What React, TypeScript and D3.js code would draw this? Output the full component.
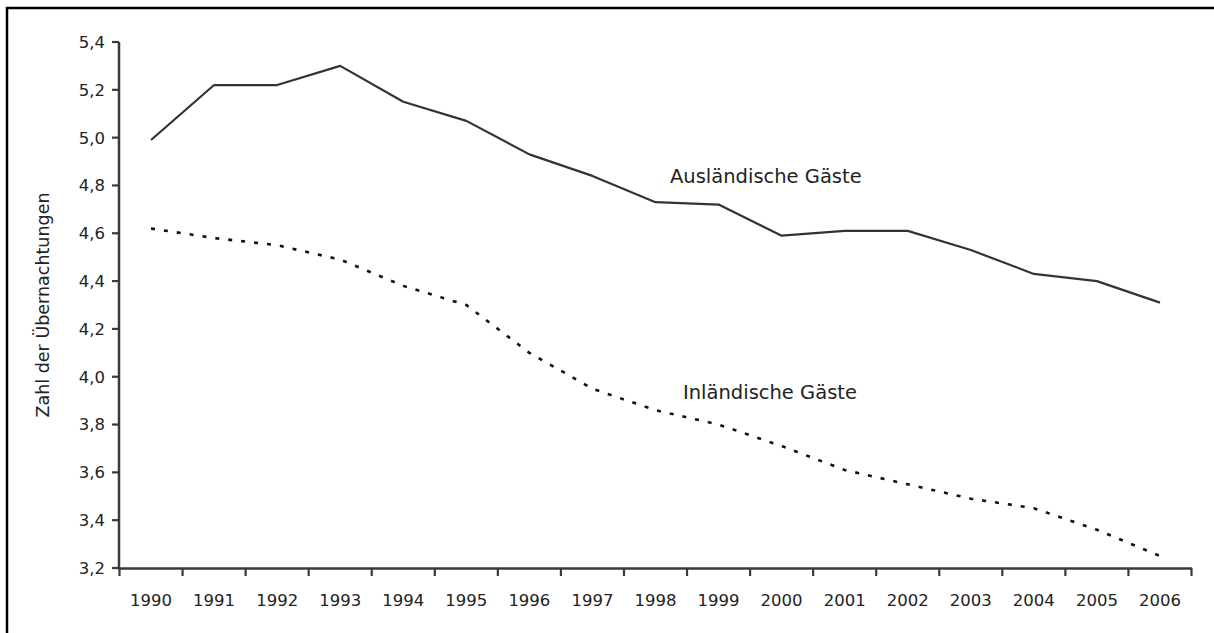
import React from "react";
import * as d3 from "d3";

const years = [
  "1990", "1991", "1992", "1993", "1994", "1995", "1996", "1997", "1998",
  "1999", "2000", "2001", "2002", "2003", "2004", "2005", "2006",
];
const auslaendisch = [
  4.99, 5.22, 5.22, 5.3, 5.15, 5.07, 4.93, 4.84, 4.73, 4.72, 4.59, 4.61, 4.61,
  4.53, 4.43, 4.4, 4.31,
];
const inlaendisch = [
  4.62, 4.58, 4.55, 4.49, 4.38, 4.3, 4.1, 3.95, 3.86, 3.8, 3.71, 3.61, 3.55,
  3.49, 3.45, 3.36, 3.25,
];
const yTicks = [3.2, 3.4, 3.6, 3.8, 4.0, 4.2, 4.4, 4.6, 4.8, 5.0, 5.2, 5.4];
const yTitle = "Zahl der Übernachtungen";
const labelAusl = "Ausländische Gäste";
const labelInl = "Inländische Gäste";

const W = 1214;
const H = 633;
const FONT = "'DejaVu Sans', sans-serif";
const AXIS = "#3a3a3a";

export default function App() {
  const x = d3.scaleBand<string>().domain(years).range([119.5, 1191.5]);
  const y = d3.scaleLinear().domain([3.2, 5.4]).range([568, 42]);
  const cx = (i: number) => (x(years[i]) as number) + x.bandwidth() / 2;

  const line = d3
    .line<number>()
    .x((_, i) => cx(i))
    .y((d) => y(d));

  const boundaries = [
    ...years.map((yr) => x(yr) as number),
    (x(years[years.length - 1]) as number) + x.bandwidth(),
  ];

  const fmt = (v: number) => v.toFixed(1).replace(".", ",");

  return (
    <svg
      width={W}
      height={H}
      style={{ position: "absolute", left: 0, top: 0, background: "#fff" }}
      fontFamily={FONT}
    >
      <rect x={7} y={8} width={1230} height={660} fill="none" stroke="#000" strokeWidth={2.5} />

      {/* y axis */}
      <line x1={119} x2={119} y1={y(5.4)} y2={y(3.2)} stroke={AXIS} strokeWidth={2.5} />
      {yTicks.map((t) => (
        <g key={t}>
          <line x1={112} x2={119} y1={y(t)} y2={y(t)} stroke={AXIS} strokeWidth={2.2} />
          <text x={105} y={y(t)} dy="0.36em" textAnchor="end" fontSize={16.5} fill="#222">
            {fmt(t)}
          </text>
        </g>
      ))}

      {/* x axis */}
      <line x1={118} x2={boundaries[boundaries.length - 1] + 0.5} y1={568.5} y2={568.5} stroke={AXIS} strokeWidth={2.5} />
      {boundaries.map((b, i) => (
        <line key={i} x1={b} x2={b} y1={568} y2={576} stroke={AXIS} strokeWidth={2.2} />
      ))}
      {years.map((yr, i) => (
        <text key={yr} x={cx(i)} y={605.5} textAnchor="middle" fontSize={16.5} fill="#222">
          {yr}
        </text>
      ))}

      {/* y title */}
      <text
        transform={`translate(49, ${y(4.3)}) rotate(-90)`}
        textAnchor="middle"
        fontSize={17.5}
        fill="#222"
      >
        {yTitle}
      </text>

      {/* series */}
      <path d={line(auslaendisch) || ""} fill="none" stroke="#333" strokeWidth={2.2} strokeLinejoin="round" />
      <path
        d={line(inlaendisch) || ""}
        fill="none"
        stroke="#111"
        strokeWidth={2.6}
        strokeDasharray="4 9"
      />

      <text x={670} y={183} fontSize={19.5} fill="#222">
        {labelAusl}
      </text>
      <text x={683} y={399} fontSize={19.5} fill="#222">
        {labelInl}
      </text>
    </svg>
  );
}
